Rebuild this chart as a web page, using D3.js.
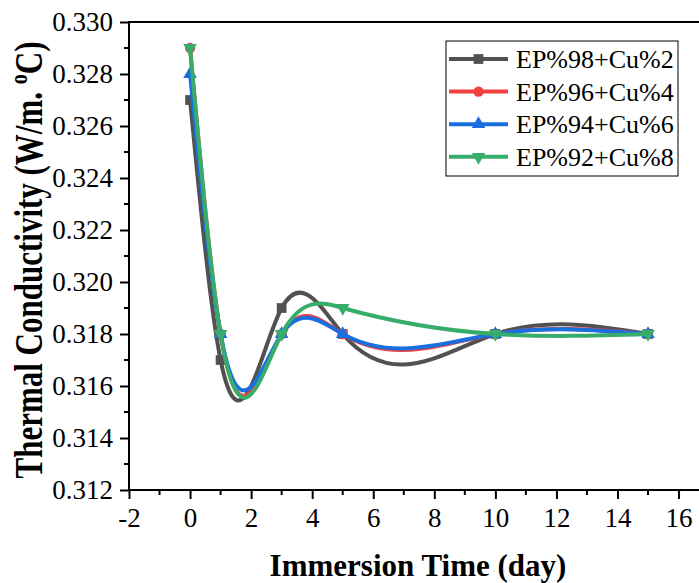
<!DOCTYPE html>
<html>
<head>
<meta charset="utf-8">
<script src="https://cdn.jsdelivr.net/npm/d3@7"></script>
<style>
  body { margin: 0; background: #fff; }
  svg text { font-family: "Liberation Serif", "Times New Roman", Times, serif; fill: #000; }
</style>
</head>
<body>
<div id="chart"></div>
<script>
var svgWidth = 699;
var svgHeight = 583;

var margin = { top: 22, right: 0, bottom: 93, left: 129 };
var width = svgWidth - margin.left - margin.right;
var height = svgHeight - margin.top - margin.bottom;
var serif = "'Liberation Serif', 'Times New Roman', Times, serif";

// data
var days = [0, 1, 3, 5, 10, 15];
var seriesNames = ["EP%98+Cu%2", "EP%96+Cu%4", "EP%94+Cu%6", "EP%92+Cu%8"];
var cu2 = [0.327, 0.317, 0.319, 0.318, 0.318, 0.318];
var cu4 = [0.329, 0.318, 0.318, 0.318, 0.318, 0.318];
var cu6 = [0.328, 0.318, 0.318, 0.318, 0.318, 0.318];
var cu8 = [0.329, 0.318, 0.318, 0.319, 0.318, 0.318];
var xTicks = [-2, 0, 2, 4, 6, 8, 10, 12, 14, 16];
var yTicks = [0.312, 0.314, 0.316, 0.318, 0.320, 0.322, 0.324, 0.326, 0.328, 0.330];

var colors = ["#515151", "#F14040", "#1A6FDF", "#37AD6B"];
var symbols = [d3.symbolSquare, d3.symbolCircle, d3.symbolTriangle, "down"];

var allSeries = [cu2, cu4, cu6, cu8].map(function(vals, i) {
  return { name: seriesNames[i], color: colors[i], symbol: symbols[i],
           points: days.map(function(d, j) { return { x: d, y: vals[j] }; }) };
});

var svg = d3.select("#chart").append("svg")
  .attr("width", svgWidth)
  .attr("height", svgHeight)
  .attr("font-family", serif);

var chartGroup = svg.append("g")
  .attr("transform", `translate(${margin.left}, ${margin.top})`);

var xScale = d3.scaleLinear().domain([-2, 16.67]).range([0, width]);
var yScale = d3.scaleLinear().domain([0.312, 0.330]).range([height, 0]);

// natural cubic spline y(x), drawn as bezier pieces
function splineX(context) {
  var xs, ys;
  return {
    areaStart: function() {}, areaEnd: function() {},
    lineStart: function() { xs = []; ys = []; },
    point: function(x, y) { xs.push(+x); ys.push(+y); },
    lineEnd: function() {
      var n = xs.length;
      if (!n) return;
      context.moveTo(xs[0], ys[0]);
      if (n < 3) { for (var k = 1; k < n; k++) context.lineTo(xs[k], ys[k]); return; }
      var h = [], M = new Array(n).fill(0);
      for (var i = 0; i < n - 1; i++) h.push(xs[i + 1] - xs[i]);
      // tridiagonal solve
      var a = [], b = [], c = [], r = [];
      for (i = 1; i < n - 1; i++) {
        a.push(h[i - 1]); b.push(2 * (h[i - 1] + h[i])); c.push(h[i]);
        r.push(6 * ((ys[i + 1] - ys[i]) / h[i] - (ys[i] - ys[i - 1]) / h[i - 1]));
      }
      var m = b.length;
      for (i = 1; i < m; i++) {
        var w = a[i] / b[i - 1];
        b[i] -= w * c[i - 1];
        r[i] -= w * r[i - 1];
      }
      var sol = new Array(m);
      sol[m - 1] = r[m - 1] / b[m - 1];
      for (i = m - 2; i >= 0; i--) sol[i] = (r[i] - c[i] * sol[i + 1]) / b[i];
      for (i = 0; i < m; i++) M[i + 1] = sol[i];
      for (i = 0; i < n - 1; i++) {
        var hi = h[i], dy = (ys[i + 1] - ys[i]) / hi;
        var s0 = dy - hi * (2 * M[i] + M[i + 1]) / 6;
        var s1 = dy + hi * (M[i] + 2 * M[i + 1]) / 6;
        context.bezierCurveTo(xs[i] + hi / 3, ys[i] + s0 * hi / 3,
                              xs[i + 1] - hi / 3, ys[i + 1] - s1 * hi / 3,
                              xs[i + 1], ys[i + 1]);
      }
    }
  };
}

// axes
var bottomAxis = d3.axisBottom(xScale).tickValues(xTicks).tickSize(9).tickPadding(9)
  .tickFormat(d => String(d));
var leftAxis = d3.axisLeft(yScale).tickValues(yTicks).tickSize(9).tickPadding(7)
  .tickFormat(d3.format(".3f"));

var minorX = d3.range(-1, 17, 2);
var minorY = d3.range(0.313, 0.3300, 0.002);

var xAxis = chartGroup.append("g")
  .attr("transform", `translate(0, ${height})`)
  .call(bottomAxis);
var yAxis = chartGroup.append("g").call(leftAxis);

[xAxis, yAxis].forEach(function(ax) {
  ax.attr("font-family", serif).attr("font-size", 27);
  ax.select(".domain").remove();
  ax.selectAll(".tick line").attr("stroke", "#000").attr("stroke-width", 2);
  ax.selectAll(".tick text").attr("font-family", serif).style("font-family", serif)
    .style("font-size", "27px");
});

chartGroup.selectAll(".minorX").data(minorX).enter().append("line")
  .attr("x1", d => xScale(d)).attr("x2", d => xScale(d))
  .attr("y1", height).attr("y2", height + 5)
  .attr("stroke", "#000").attr("stroke-width", 2);
chartGroup.selectAll(".minorY").data(minorY).enter().append("line")
  .attr("x1", 0).attr("x2", -5)
  .attr("y1", d => yScale(d)).attr("y2", d => yScale(d))
  .attr("stroke", "#000").attr("stroke-width", 2);

// frame: left, bottom and top lines
chartGroup.append("path")
  .attr("d", `M${width},0H0V${height}H${width}`)
  .attr("fill", "none").attr("stroke", "#000").attr("stroke-width", 2);

// lines
var line = d3.line()
  .x(d => xScale(d.x))
  .y(d => yScale(d.y))
  .curve(splineX);

function markerPath(sym, size) {
  if (sym === "down") {
    return d3.symbol().type(d3.symbolTriangle).size(size)();
  }
  return d3.symbol().type(sym).size(size)();
}
function markerSize(sym) {
  if (sym === d3.symbolSquare) return 95;
  if (sym === d3.symbolCircle) return 85;
  return 80;
}
function markerRot(sym) { return sym === "down" ? " rotate(180)" : ""; }

allSeries.forEach(function(s) {
  chartGroup.append("path")
    .datum(s.points)
    .attr("d", line)
    .attr("fill", "none")
    .attr("stroke", s.color)
    .attr("stroke-width", 4);
  chartGroup.selectAll(null)
    .data(s.points)
    .enter().append("path")
    .attr("d", markerPath(s.symbol, markerSize(s.symbol)))
    .attr("transform", d => `translate(${xScale(d.x)}, ${yScale(d.y)})` + markerRot(s.symbol))
    .attr("fill", s.color);
});

// legend
var legend = svg.append("g").attr("transform", "translate(446, 41)");
legend.append("rect")
  .attr("width", 232).attr("height", 135)
  .attr("fill", "#fff").attr("stroke", "#000").attr("stroke-width", 1);
var rows = legend.selectAll(".row").data(allSeries).enter().append("g")
  .attr("transform", (d, i) => `translate(0, ${18 + i * 32.6})`);
rows.append("line")
  .attr("x1", 3).attr("x2", 62)
  .attr("stroke", d => d.color).attr("stroke-width", 4);
rows.append("path")
  .attr("d", d => markerPath(d.symbol, markerSize(d.symbol)))
  .attr("transform", d => "translate(32.5, 0)" + markerRot(d.symbol))
  .attr("fill", d => d.color);
rows.append("text")
  .attr("x", 70).attr("y", 9)
  .attr("font-family", serif)
  .style("font-size", "26px")
  .text(d => d.name);

// axis titles
svg.append("text")
  .attr("x", 418)
  .attr("y", 576)
  .attr("text-anchor", "middle")
  .attr("font-family", serif)
  .style("font-size", "31px")
  .style("font-weight", "bold")
  .text("Immersion Time (day)");

var yTitle = svg.append("text")
  .attr("transform", "translate(42, 260) scale(1.28, 1) rotate(-90)")
  .attr("text-anchor", "middle")
  .attr("font-family", serif)
  .style("font-size", "31px")
  .style("font-weight", "bold");
yTitle.append("tspan").text("Thermal Conductivity (W/m. ");
yTitle.append("tspan").attr("dy", -12).style("font-size", "20px").text("o");
yTitle.append("tspan").attr("dy", 12).text("C)");
</script>
</body>
</html>
